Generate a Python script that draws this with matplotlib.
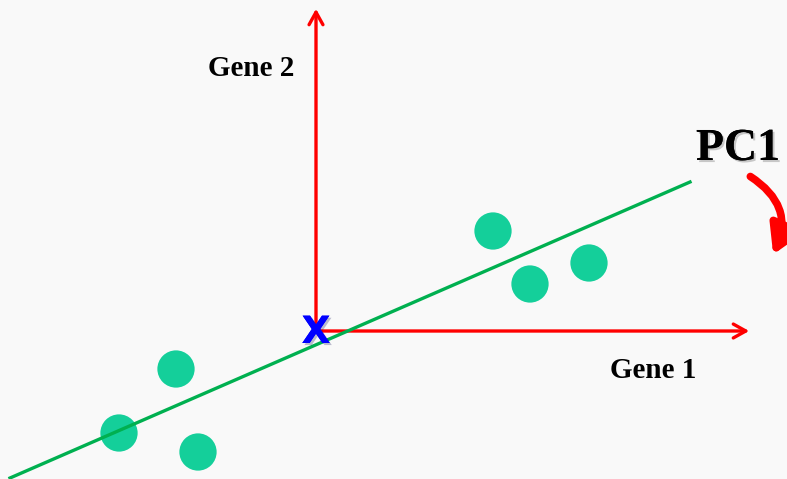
import matplotlib.pyplot as plt
from matplotlib.patches import FancyArrowPatch
import matplotlib.patheffects as pe

# pixel-style coordinates (y grows downward)
point_x = [493, 589, 530, 176, 119, 198]
point_y = [231, 263, 284, 369, 433, 452]

pc1_x = [10, 690]
pc1_y = [478, 182]

origin = (316, 331)
gene1_end = (752, 331)
gene2_end = (316, 6)

red = "#ff0000"
green = "#00b050"
dot = "#14cf9a"

fig = plt.figure(figsize=(7.87, 4.79), dpi=100)
fig.patch.set_facecolor("#f9f9f9")
ax = fig.add_axes([0, 0, 1, 1])
ax.set_facecolor("#f9f9f9")
ax.set_xlim(0, 787)
ax.set_ylim(479, 0)
ax.axis("off")

# PC1 line
ax.plot(pc1_x, pc1_y, color=green, lw=2.4, zorder=3)

# data points
ax.scatter(point_x, point_y, s=720, color=dot, edgecolors="none", zorder=2)

# gene axes
for end in (gene1_end, gene2_end):
    arr = FancyArrowPatch(origin, end, arrowstyle="->,head_length=9,head_width=5",
                          color=red, lw=2.4, mutation_scale=1, zorder=1)
    ax.add_patch(arr)

# centre marker
ax.text(origin[0], origin[1] + 2, "X", color="#0000ff", fontsize=27, fontweight="bold",
        family="DejaVu Sans", ha="center", va="center", zorder=4,
        path_effects=[pe.withSimplePatchShadow(offset=(1.5, -1.5), alpha=0.25), pe.Normal()])

serif = "Liberation Serif"
ax.text(251, 68, "Gene 2", fontsize=21, fontweight="bold", family=serif,
        ha="center", va="center")
ax.text(653, 370, "Gene 1", fontsize=21, fontweight="bold", family=serif,
        ha="center", va="center")
ax.text(738, 149, "PC1", fontsize=33, fontweight="bold", family=serif,
        ha="center", va="center",
        path_effects=[pe.withSimplePatchShadow(offset=(1.5, -1.5), alpha=0.2), pe.Normal()])

# curved rotation arrow
rot = FancyArrowPatch((748, 175), (772, 257), connectionstyle="arc3,rad=-0.45",
                      arrowstyle="-|>,head_length=17,head_width=10",
                      color=red, lw=5.5, mutation_scale=1, zorder=3)
ax.add_patch(rot)

fig.savefig("out.png", dpi=100, facecolor=fig.get_facecolor())
